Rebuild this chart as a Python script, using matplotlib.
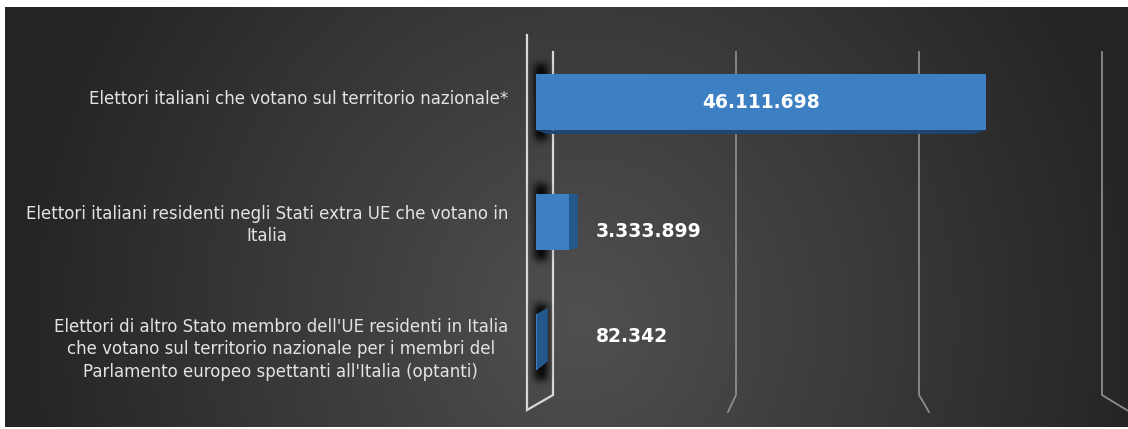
import numpy as np
import matplotlib
matplotlib.use("Agg")
import matplotlib.pyplot as plt
from matplotlib.patches import Polygon
from matplotlib.lines import Line2D

# ---------------- data ----------------
categories = [
    "Elettori italiani che votano sul territorio nazionale*",
    "Elettori italiani residenti negli Stati extra UE che votano in\nItalia",
    "Elettori di altro Stato membro dell'UE residenti in Italia\n"
    "che votano sul territorio nazionale per i membri del\n"
    "Parlamento europeo spettanti all'Italia (optanti)",
]
values = [46111698, 3333899, 82342]
value_labels = ["46.111.698", "3.333.899", "82.342"]
gridline_values = [0, 20e6, 40e6, 60e6]
x_max = 60e6

# ---------------- style ----------------
W, H, DPI = 1128, 429, 100
FONT = ["DejaVu Sans"]
label_inside = [True, False, False]
value_dy_pt = [0, -6.5, 3.6]
label_dy_pt = [2.0, -2.2, -5.2]
bar_color = "#3c80c3"
side_color = "#24578c"
bottom_color = "#1d4674"
top_color = "#4a8ed0"
VP = (745.0, 200.0)   # vanishing point (pixels, top-left origin)
K = 0.053

fig = plt.figure(figsize=(W / DPI, H / DPI), dpi=DPI, facecolor="white")


def fr(x0, y0, x1, y1):
    return [x0 / W, 1 - y1 / H, (x1 - x0) / W, (y1 - y0) / H]


# background gradient panel
bg = fig.add_axes(fr(5, 7, 1128, 427), zorder=0)
bg.set_axis_off()
yy, xx = np.mgrid[7:427, 5:1128].astype(float)
r = np.sqrt(((xx - 580) / 570.0) ** 2 + ((yy - 320) / 600.0) ** 2)
lum = (0x50 - (0x50 - 0x24) * np.clip(r, 0, 1)) / 255.0
bg.imshow(np.dstack([lum, lum, lum]), aspect="auto", extent=(0, 1, 0, 1),
          origin="upper", interpolation="bilinear")
bg.set_xlim(0, 1)
bg.set_ylim(0, 1)

# planes for perspective grid
ax_back = fig.add_axes(fr(553, 52, 1102, 395), zorder=1)
ax_front = fig.add_axes(fr(527, 35, 1130, 410), zorder=1)
for a in (ax_back, ax_front):
    a.set_xlim(0, x_max)
    a.set_ylim(0, 1)
    a.set_axis_off()

# bar axes
ax = fig.add_axes(fr(536, 42, 1121, 402), zorder=3)
ax.set_xlim(0, x_max)
ax.set_ylim(len(values) - 0.5, -0.5)
ax.set_axis_off()
ax.patch.set_alpha(0)

under = fig.add_axes([0, 0, 1, 1], zorder=2)
under.set_axis_off()
under.patch.set_alpha(0)

# grid lines
for i, v in enumerate(gridline_values):
    xb = ax_back.transData.transform((v, 0))[0]
    xf = ax_front.transData.transform((v, 0))[0]
    if i == 0:
        col, lw = "#d8d8d8", 1.6
        xs = [xf, xf, xb, xb]
        ys = [35, 410, 395, 52]
    else:
        col, lw = "#8c8c8c", 1.3
        xs = [xb, xb, xf]
        ys = [52, 395, 412]
    under.add_line(Line2D(xs, ys, color=col, lw=lw, solid_joinstyle="miter"))

# bars
y_pos = np.arange(len(values))
bars = ax.barh(y_pos, values, height=0.47, color=bar_color, zorder=3)

# shadows + 3d faces
sh = np.zeros((H, W))
for b in bars:
    (x0, yb), (x1, yt) = ax.transData.transform(
        [(b.get_x(), b.get_y()), (b.get_x() + b.get_width(), b.get_y() + b.get_height())])
    py0, py1 = H - max(yb, yt), H - min(yb, yt)
    px0, px1 = x0, x1
    sh[int(py0 - 9):int(py1 + 10), int(px0 - 1):int(px0 + 11)] = 1.0

    def back(p):
        return (p[0] + K * (VP[0] - p[0]), p[1] + K * (VP[1] - p[1]))

    faces = []
    if px1 < VP[0]:
        pts = [(px1, py0), (px1, py1), back((px1, py1)), back((px1, py0))]
        faces.append((pts, side_color))
    if py1 < VP[1]:
        pts = [(px0, py1), (px1, py1), back((px1, py1)), back((px0, py1))]
        faces.append((pts, bottom_color))
    if py0 > VP[1] and px1 - px0 > 3:
        pts = [(px0, py0), (px1, py0), back((px1, py0)), back((px0, py0))]
        faces.append((pts, top_color))
    for pts, c in faces:
        under.add_patch(Polygon(pts, closed=True, facecolor=c, edgecolor="none", zorder=5))

# blur shadow
sig = 3.8
t = np.arange(-12, 13)
g = np.exp(-t ** 2 / (2 * sig ** 2))
g /= g.sum()
sh = np.apply_along_axis(lambda m: np.convolve(m, g, mode="same"), 0, sh)
sh = np.apply_along_axis(lambda m: np.convolve(m, g, mode="same"), 1, sh)
rgba = np.zeros((H, W, 4))
rgba[..., 3] = np.clip(sh * 1.0, 0, 0.85)
under.imshow(rgba, extent=(0, W, H, 0), origin="upper", zorder=3, aspect="auto")
under.set_xlim(0, W)
under.set_ylim(H, 0)

# category labels
for i, cat in enumerate(categories):
    ax.annotate(cat, xy=(0, i), xycoords=("axes fraction", "data"),
                xytext=(-20.2, label_dy_pt[i]), textcoords="offset points",
                ha="right", va="center", multialignment="center",
                fontsize=12, color="#e3e3e3", family=FONT,
                linespacing=1.32, annotation_clip=False)

# value labels
for i, (v, lab) in enumerate(zip(values, value_labels)):
    if label_inside[i]:
        ax.text(v / 2, i, lab, ha="center", va="center", color="white",
                fontsize=13.5, fontweight="bold", family=FONT, zorder=6)
    else:
        ax.annotate(lab, xy=(0, i), xycoords=("axes fraction", "data"),
                    xytext=(43.2, value_dy_pt[i]), textcoords="offset points",
                    ha="left", va="center", color="white",
                    fontsize=13.5, fontweight="bold", family=FONT,
                    annotation_clip=False)

fig.savefig("out.png", dpi=DPI, facecolor="white")
